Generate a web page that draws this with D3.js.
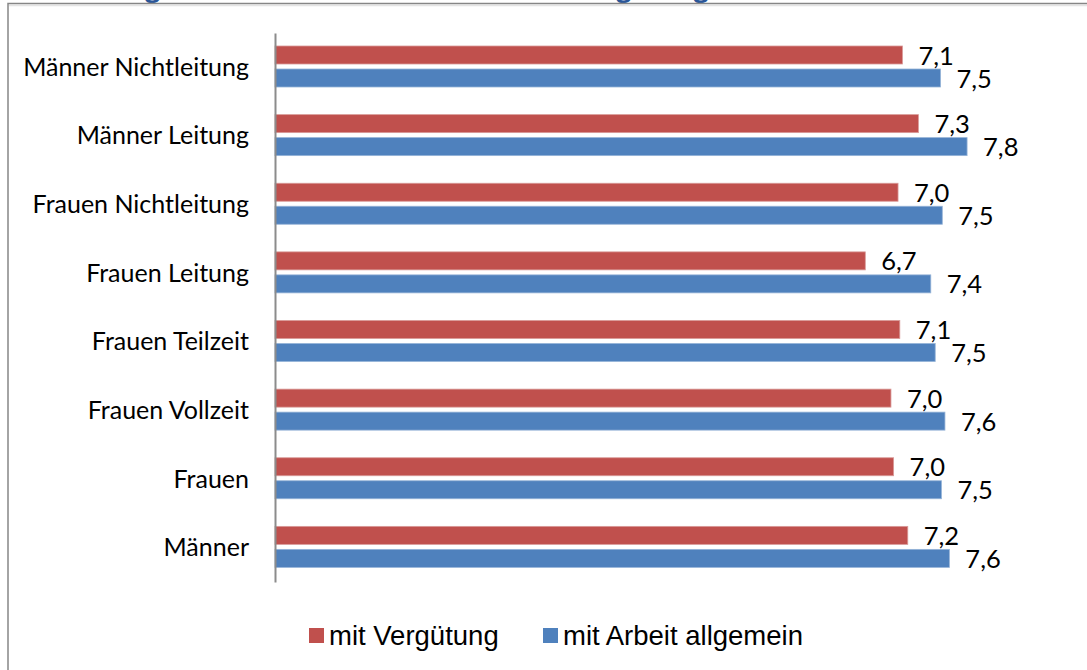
<!DOCTYPE html>
<html>
<head>
<meta charset="utf-8">
<script src="https://cdn.jsdelivr.net/npm/d3@7"></script>
<style>
  body { margin: 0; background: #fff; }
  svg { display: block; }
  .cat { font-family: Lato, "Open Sans", sans-serif; font-size: 25px; fill: #000; }
  .val { font-family: Lato, "Open Sans", sans-serif; font-size: 25.5px; fill: #000; }
  .leg { font-family: "Liberation Sans", Arial, sans-serif; font-size: 27.5px; fill: #000; }
  .title { font-family: "Open Sans", sans-serif; font-size: 26px; font-weight: bold; fill: #2a5699; word-spacing: 18px; }
</style>
</head>
<body>
<svg width="1087" height="670"></svg>
<script>
// data (Excel order: first category is drawn at the bottom)
const categories = ["Männer", "Frauen", "Frauen Vollzeit", "Frauen Teilzeit",
  "Frauen Leitung", "Frauen Nichtleitung", "Männer Leitung", "Männer Nichtleitung"];
const seriesNames = ["mit Vergütung", "mit Arbeit allgemein"];
const verguetung = [7.15, 6.99, 6.96, 7.06, 6.67, 7.04, 7.27, 7.09];
const arbeit = [7.62, 7.53, 7.57, 7.46, 7.41, 7.54, 7.82, 7.52];
const colors = ["#c0504d", "#4f81bd"];
const edgeColors = ["#d99a98", "#95b3d7"];

const svg = d3.select("svg");
const W = 1087, H = 670;

// frame of the embedded chart (cropped at the right and bottom);
// the heading above it is cut off, only its descenders show
svg.append("text").attr("class", "title")
  .attr("x", 28).attr("y", -3)
  .text("Abbildung 5: Zufriedenheit mit der Vergütung und Arbeit");
svg.append("line").attr("x1", 9).attr("x2", W).attr("y1", 5.5).attr("y2", 5.5)
  .attr("stroke", "#e4e4e4").attr("stroke-width", 1.5);
svg.append("path").attr("d", `M8,${H} V3.5 H${W}`)
  .attr("fill", "none").attr("stroke", "#868686").attr("stroke-width", 1.5);

const x = d3.scaleLinear().domain([0, 10]).range([275, 1160]);
const y = d3.scaleBand().domain(categories).range([582, 33]);
const inner = d3.scaleBand().domain(seriesNames).range([13, 54]).paddingInner(5 / 23);

const rows = categories.map((c, i) => ({ cat: c, vals: [verguetung[i], arbeit[i]] }));
const fmt = v => d3.format(".1f")(v).replace(".", ",");

const groups = svg.append("g").selectAll("g")
  .data(rows).enter().append("g")
  .attr("transform", d => `translate(0,${y(d.cat)})`);

const bars = groups.selectAll("g.bar")
  .data(d => d.vals.map((v, k) => ({ v, k, name: seriesNames[k] })))
  .enter().append("g").attr("class", "bar");

bars.append("rect")
  .attr("x", x(0))
  .attr("y", d => inner(d.name))
  .attr("width", d => x(d.v) - x(0))
  .attr("height", inner.bandwidth())
  .attr("fill", d => colors[d.k])
  .attr("stroke", d => edgeColors[d.k])
  .attr("stroke-width", 0.8);

bars.append("text").attr("class", "val")
  .attr("x", d => x(d.v) + 16)
  .attr("y", d => inner(d.name) + inner.bandwidth() / 2 + 9.5)
  .text(d => fmt(d.v));

// category axis
const yAxis = svg.append("g").attr("transform", `translate(${x(0)},0)`)
  .call(d3.axisLeft(y).tickSize(0).tickPadding(26));
yAxis.select(".domain").attr("stroke", "#8c8c8c").attr("stroke-width", 2);
yAxis.selectAll(".tick text").attr("class", "cat").attr("font-family", null).attr("font-size", null)
  .attr("dy", null).attr("y", 8.5);

// legend
const legX = [309, 543];
const leg = svg.append("g").selectAll("g").data(seriesNames).enter().append("g")
  .attr("transform", (d, i) => `translate(${legX[i]},628)`);
leg.append("rect").attr("width", 15).attr("height", 15).attr("fill", (d, i) => colors[i]);
leg.append("text").attr("class", "leg").attr("x", 20).attr("y", 17).text(d => d);
</script>
</body>
</html>
